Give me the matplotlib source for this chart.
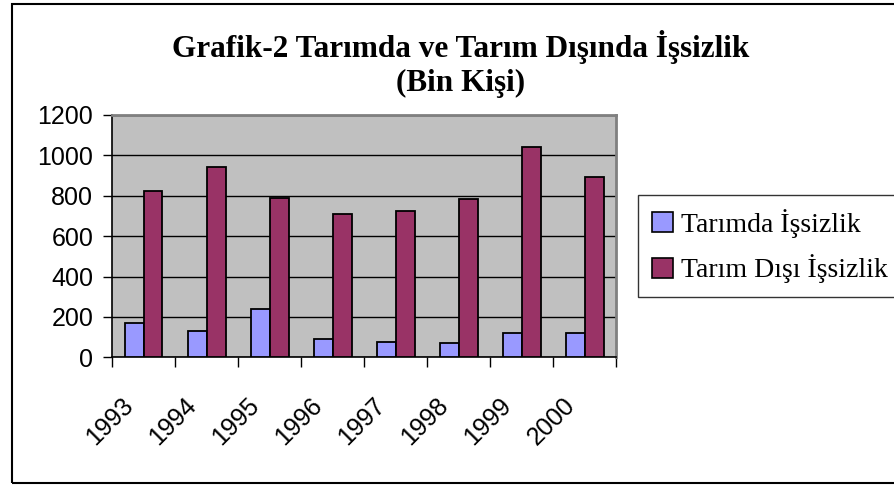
import matplotlib
matplotlib.use("Agg")
import matplotlib.pyplot as plt
import matplotlib.transforms as mtransforms
from matplotlib.patches import Rectangle, Patch
import numpy as np

years = ["1993", "1994", "1995", "1996", "1997", "1998", "1999", "2000"]
tarimda = [168, 129, 238, 89, 77, 69, 119, 119]
tarim_disi = [822, 940, 790, 711, 723, 784, 1040, 891]
yticks = [0, 200, 400, 600, 800, 1000, 1200]
series_names = ["Tarımda İşsizlik", "Tarım Dışı İşsizlik"]
title = "Grafik-2 Tarımda ve Tarım Dışında İşsizlik\n(Bin Kişi)"

W, H = 895, 487
fig = plt.figure(figsize=(W / 100, H / 100), dpi=100)

# outer frame
fig.patches.append(Rectangle((12 / W, 1 - 483 / H), 1.2, (483 - 4) / H,
                             transform=fig.transFigure, fill=False,
                             edgecolor="black", linewidth=1.5, zorder=0))

left, right, top, bottom = 112, 616.5, 115, 357.3
ax = fig.add_axes([left / W, 1 - bottom / H, (right - left) / W, (bottom - top) / H])
ax.set_facecolor("#C0C0C0")

x = np.arange(len(years))
bw = 0.3
ax.bar(x - bw / 2, tarimda, width=bw, color="#9999FF", edgecolor="black",
       linewidth=1.3, zorder=3, label=series_names[0])
ax.bar(x + bw / 2, tarim_disi, width=bw, color="#993366", edgecolor="black",
       linewidth=1.3, zorder=3, label=series_names[1])

ax.set_xlim(-0.5, len(years) - 0.5)
ax.set_ylim(0, 1200)
ax.set_yticks(yticks)
ax.set_yticklabels([str(v) for v in yticks], family="Liberation Sans", fontsize=18)
ax.yaxis.grid(True, color="black", linewidth=1.0, zorder=1)
ax.set_axisbelow(True)
ax.tick_params(axis="y", direction="out", length=6.5, width=1, pad=7, colors="black")

# category boundary ticks
ax.set_xticks(np.arange(len(years) + 1) - 0.5, minor=True)
ax.tick_params(axis="x", which="minor", direction="out", length=7.5, width=1)
ax.set_xticks(x)
ax.set_xticklabels(years, family="Liberation Sans", fontsize=18,
                   rotation=45, ha="right", va="center", rotation_mode="anchor")
ax.tick_params(axis="x", which="major", length=0, pad=32)
offset = mtransforms.ScaledTranslation(-14 / 100, 0, fig.dpi_scale_trans)
for lbl in ax.get_xticklabels():
    lbl.set_transform(lbl.get_transform() + offset)

for s in ["top", "right"]:
    ax.spines[s].set_color("#808080")
    ax.spines[s].set_linewidth(2)
for s in ["left", "bottom"]:
    ax.spines[s].set_color("black")
    ax.spines[s].set_linewidth(1.2)

fig.text(461 / W, 1 - 64 / H, title, ha="center", va="center",
         family="Liberation Serif", fontweight="bold", fontsize=22.5,
         linespacing=1.2)

handles = [Patch(facecolor="#9999FF", edgecolor="black", linewidth=1.2),
           Patch(facecolor="#993366", edgecolor="black", linewidth=1.2)]
leg = fig.legend(handles, series_names, loc="upper left",
                 bbox_to_anchor=(638 / W, 1 - 195 / H),
                 prop={"family": "Liberation Serif", "size": 20},
                 frameon=True, fancybox=False, edgecolor="black",
                 handlelength=0.75, handleheight=0.75, handletextpad=0.3,
                 borderpad=0.5, labelspacing=0.6, borderaxespad=0)
leg.get_frame().set_linewidth(1.0)

fig.savefig("out.png", dpi=100)
